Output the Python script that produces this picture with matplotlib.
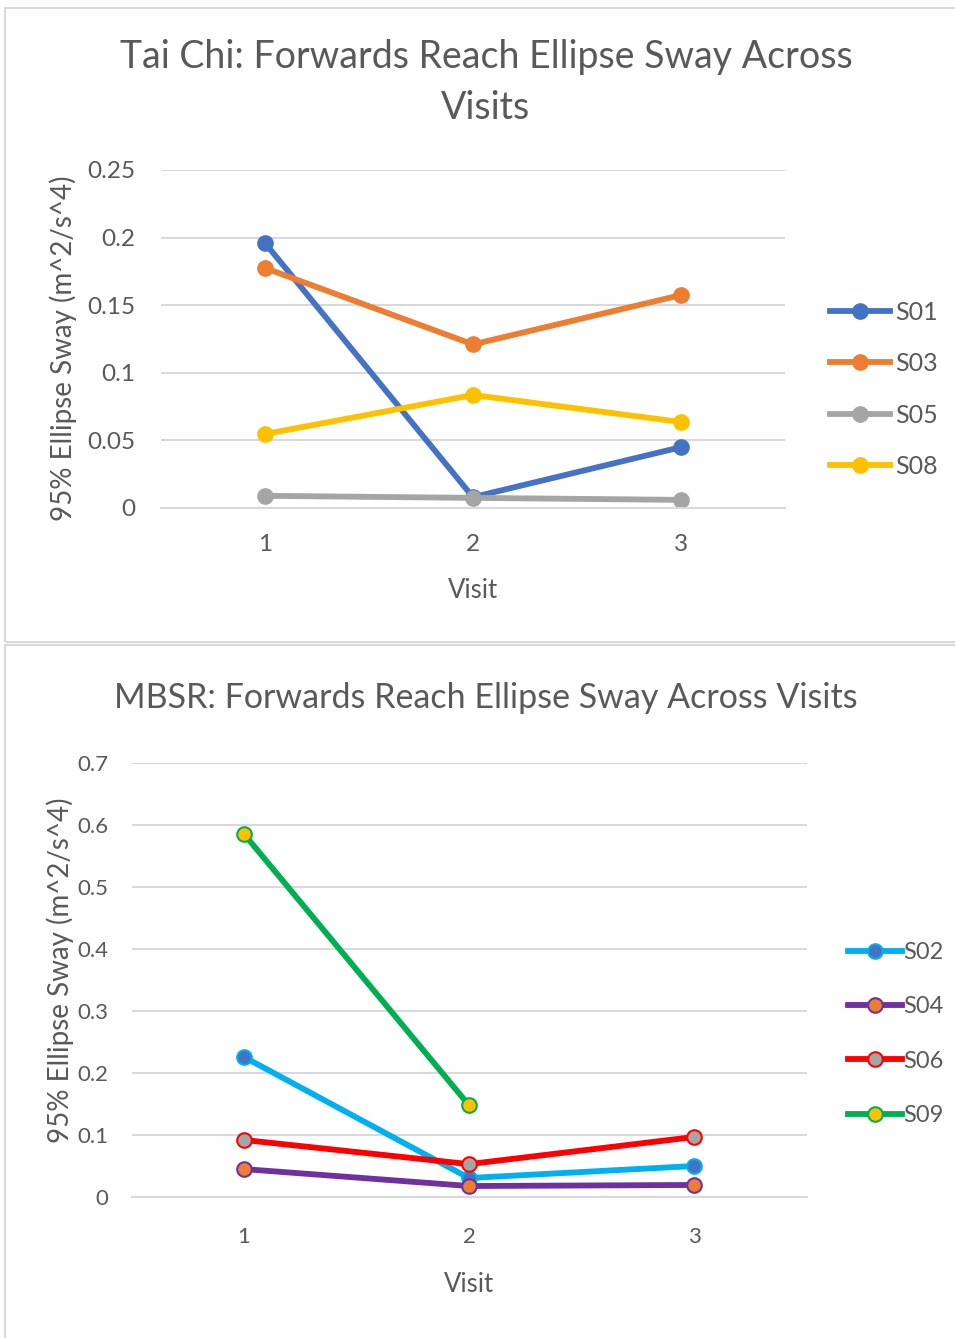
import numpy as np
import matplotlib.pyplot as plt
from matplotlib.patches import Rectangle

plt.rcParams['font.family'] = ['Lato', 'DejaVu Sans']

# data
visits = [1, 2, 3]

tc_labels = ["S01", "S03", "S05", "S08"]
tc_s01 = [0.196, 0.008, 0.045]
tc_s03 = [0.1775, 0.121, 0.1575]
tc_s05 = [0.009, 0.0075, 0.006]
tc_s08 = [0.0547, 0.0836, 0.0636]
tc_colors = ["#4472C4", "#ED7D31", "#A5A5A5", "#FFC000"]

mb_labels = ["S02", "S04", "S06", "S09"]
mb_s02 = [0.2258, 0.0306, 0.050]
mb_s04 = [0.045, 0.0177, 0.0194]
mb_s06 = [0.092, 0.053, 0.0968]
mb_s09 = [0.5855, 0.148, np.nan]
mb_line_colors = ["#00B0F0", "#7030A0", "#FF0000", "#00B050"]
mb_face_colors = ["#4472C4", "#ED7D31", "#A5A5A5", "#FFC000"]

txt = "#595959"
grid = "#D9D9D9"

fig = plt.figure(figsize=(9.55, 13.38), dpi=100)

# chart frames
fig.add_artist(Rectangle((5/955, 1-642/1338), 1.0, 634/1338, transform=fig.transFigure,
                         fill=False, ec=grid, lw=1.5))
fig.add_artist(Rectangle((5/955, -0.01), 1.0, 1-645/1338+0.01, transform=fig.transFigure,
                         fill=False, ec=grid, lw=1.5))


def style_axes(ax, ymax, step, tsize, lsize, ypad, xpad, ylpad, xlpad):
    ax.set_xlim(0.5, 3.5)
    ax.set_ylim(0, ymax)
    ax.set_yticks(np.arange(0, ymax + step/2, step))
    ax.set_xticks(visits)
    for s in ["top", "right", "left"]:
        ax.spines[s].set_visible(False)
    ax.spines["bottom"].set_color(grid)
    ax.spines["bottom"].set_linewidth(1.5)
    ax.yaxis.grid(True, color=grid, lw=1.5)
    ax.set_axisbelow(True)
    ax.tick_params(length=0, labelsize=tsize, colors=txt)
    ax.tick_params(axis="y", pad=ypad)
    ax.tick_params(axis="x", pad=xpad)
    ax.set_xlabel("Visit", fontsize=lsize, color=txt, labelpad=xlpad)
    ax.set_ylabel("95% Ellipse Sway (m^2/s^4)", fontsize=lsize + 1.5, color=txt, labelpad=ylpad)


# Tai Chi
ax1 = fig.add_axes([161/955, 1-508/1338, 624/955, 338/1338])
for lab, vals, c in zip(tc_labels, [tc_s01, tc_s03, tc_s05, tc_s08], tc_colors):
    ax1.plot(visits, vals, color=c, lw=4.2, marker="o", ms=11, label=lab)
style_axes(ax1, 0.25, 0.05, 17.5, 18.5, 18.5, 19, 7, 16)
ax1.yaxis.label.set_y(0.472)
ax1.set_yticklabels(["0", "0.05", "0.1", "0.15", "0.2", "0.25"])
fig.text(486/955, 1-57/1338, "Tai Chi: Forwards Reach Ellipse Sway Across", ha="center",
         va="center", fontsize=27, color=txt)
fig.text(486/955, 1-108/1338, "Visits", ha="center", va="center", fontsize=27, color=txt)
ax1.legend(loc="center left", bbox_to_anchor=(830/955, 1-389.5/1338),
           bbox_transform=fig.transFigure, frameon=False, fontsize=18,
           borderpad=0, borderaxespad=0,
           labelcolor=txt, handlelength=2.4, handletextpad=0.2, labelspacing=1.14)

# MBSR
ax2 = fig.add_axes([131.5/955, 1-1197/1338, 675/955, 434/1338])
for lab, vals, c, fc in zip(mb_labels, [mb_s02, mb_s04, mb_s06, mb_s09], mb_line_colors, mb_face_colors):
    ax2.plot(visits, vals, color=c, lw=4.2, marker="o", ms=10.5, mfc=fc, mec=c, mew=1.5, label=lab)
style_axes(ax2, 0.7, 0.1, 16, 18.5, 16.5, 21.5, 2.5, 18)
ax2.yaxis.label.set_y(0.523)
ax2.set_yticklabels(["0", "0.1", "0.2", "0.3", "0.4", "0.5", "0.6", "0.7"])
fig.text(486/955, 1-698/1338, "MBSR: Forwards Reach Ellipse Sway Across Visits", ha="center",
         va="center", fontsize=24.5, color=txt)
ax2.legend(loc="center left", bbox_to_anchor=(848/955, 1-1034/1338),
           bbox_transform=fig.transFigure, frameon=False, fontsize=17,
           borderpad=0, borderaxespad=0,
           labelcolor=txt, handlelength=2.3, handletextpad=0.05, labelspacing=1.41)

fig.savefig("out.png", dpi=100)
